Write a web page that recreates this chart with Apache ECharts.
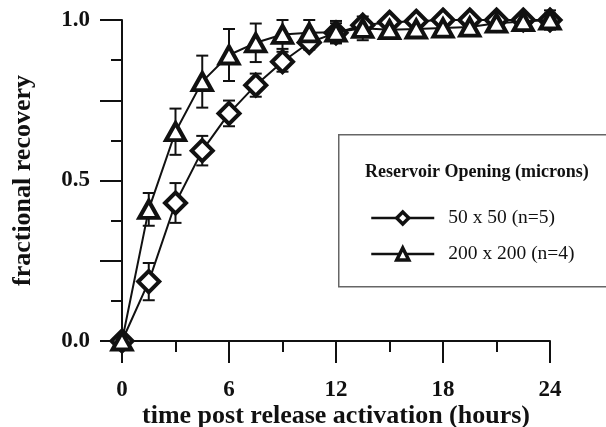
<!DOCTYPE html>
<html>
<head>
<meta charset="utf-8">
<script src="https://cdn.jsdelivr.net/npm/echarts@6/dist/echarts.min.js"></script>
<style>
  html, body { margin: 0; padding: 0; background: #fff; }
  #chart { width: 606px; height: 427px; }
</style>
</head>
<body>
<div id="chart"></div>
<script>
// time after release activation, hours
const hours = [0, 1.5, 3, 4.5, 6, 7.5, 9, 10.5, 12, 13.5, 15, 16.5, 18, 19.5, 21, 22.5, 24]

// 50 x 50 micron opening (n=5)
const small = [0, 0.185, 0.43, 0.593, 0.709, 0.797, 0.87, 0.93, 0.96, 0.984, 0.993, 0.996, 1.0, 1.0, 1.0, 1.0, 1.0]
const smallErr = [0, 0.058, 0.062, 0.046, 0.04, 0.036, 0.031, 0.022, 0.03, 0.015, 0.012, 0.01, 0.01, 0.01, 0.01, 0.01, 0.03]

// 200 x 200 micron opening (n=4)
const large = [0, 0.41, 0.652, 0.808, 0.891, 0.929, 0.955, 0.96, 0.962, 0.974, 0.97, 0.972, 0.975, 0.978, 0.99, 0.995, 1.0]
const largeErr = [0, 0.051, 0.072, 0.081, 0.081, 0.06, 0.045, 0.04, 0.035, 0.037, 0.02, 0.02, 0.015, 0.015, 0.01, 0.01, 0.02]

const smallName = '50 x 50 (n=5)'
const largeName = '200 x 200 (n=4)'

const serif = '"Liberation Serif", "Times New Roman", serif'

const toPairs = (ys) => hours.map((h, i) => [h, ys[i]])
const toErr = (ys, es) => hours.map((h, i) => [h, ys[i] - es[i], ys[i] + es[i]]).filter((d, i) => es[i] > 0)

function errorBar (params, api) {
  const lo = api.coord([api.value(0), api.value(1)])
  const hi = api.coord([api.value(0), api.value(2)])
  const cap = 6
  const style = { stroke: '#111', lineWidth: 2 }
  return {
    type: 'group',
    children: [
      { type: 'line', shape: { x1: lo[0], y1: lo[1], x2: hi[0], y2: hi[1] }, style },
      { type: 'line', shape: { x1: lo[0] - cap, y1: lo[1], x2: lo[0] + cap, y2: lo[1] }, style },
      { type: 'line', shape: { x1: hi[0] - cap, y1: hi[1], x2: hi[0] + cap, y2: hi[1] }, style }
    ]
  }
}

const chart = echarts.init(document.getElementById('chart'))

const axisLine = { show: true, lineStyle: { color: '#111', width: 2 } }

chart.setOption({
  animation: false,
  backgroundColor: '#fff',
  grid: { left: 122, top: 20, width: 428, height: 321, containLabel: false, outerBoundsMode: 'none' },
  xAxis: [
    {
      type: 'value', min: 0, max: 24, interval: 6, position: 'bottom',
      axisLine,
      axisTick: { show: true, length: 22, lineStyle: { color: '#111', width: 2 } },
      axisLabel: { margin: 38, color: '#111', fontFamily: serif, fontWeight: 'bold', fontSize: 23 },
      splitLine: { show: false },
      name: 'time post release activation (hours)',
      nameLocation: 'middle', nameGap: 62, nameMoveOverlap: false,
      nameTextStyle: { color: '#111', fontFamily: serif, fontWeight: 'bold', fontSize: 26 }
    },
    {
      type: 'value', min: 0, max: 24, interval: 3, position: 'bottom',
      axisLine: { show: false },
      axisTick: { show: true, length: 11, lineStyle: { color: '#111', width: 2 } },
      axisLabel: { show: false },
      splitLine: { show: false }
    }
  ],
  yAxis: [
    {
      type: 'value', min: 0, max: 1, interval: 0.25, position: 'left',
      axisLine,
      axisTick: { show: true, length: 22, lineStyle: { color: '#111', width: 2 } },
      axisLabel: {
        margin: 32, color: '#111', fontFamily: serif, fontWeight: 'bold', fontSize: 23,
        formatter: (v) => (v * 2 === Math.round(v * 2) ? v.toFixed(1) : '')
      },
      splitLine: { show: false },
      name: 'fractional recovery',
      nameLocation: 'middle', nameGap: 86, nameMoveOverlap: false,
      nameTextStyle: { color: '#111', fontFamily: serif, fontWeight: 'bold', fontSize: 26 }
    },
    {
      type: 'value', min: 0, max: 1, interval: 0.125, position: 'left',
      axisLine: { show: false },
      axisTick: { show: true, length: 11, lineStyle: { color: '#111', width: 2 } },
      axisLabel: { show: false },
      splitLine: { show: false }
    }
  ],
  legend: {
    orient: 'vertical',
    left: 365, top: 203,
    itemWidth: 63, itemHeight: 15, itemGap: 16,
    data: [smallName, largeName],
    itemStyle: { borderWidth: 3.5 },
    lineStyle: { width: 2.5 },
    textStyle: { color: '#111', fontFamily: serif, fontSize: 19.5, padding: [0, 0, 0, 9] }
  },
  graphic: [
    {
      type: 'rect', left: 338, top: 134, z: 0,
      shape: { width: 290, height: 152 },
      style: { fill: '#fff', stroke: '#666', lineWidth: 1.5 }
    },
    {
      type: 'text', left: 365, top: 163, z: 5,
      style: { text: 'Reservoir Opening (microns)', fill: '#111', font: 'bold 18px ' + serif }
    }
  ],
  series: [
    {
      type: 'custom', name: 'err-small', xAxisIndex: 0, yAxisIndex: 0, z: 1,
      renderItem: errorBar, data: toErr(small, smallErr), encode: { x: 0, y: [1, 2] }
    },
    {
      type: 'custom', name: 'err-large', xAxisIndex: 0, yAxisIndex: 0, z: 1,
      renderItem: errorBar, data: toErr(large, largeErr), encode: { x: 0, y: [1, 2] }
    },
    {
      type: 'line', name: smallName, data: toPairs(small), z: 3,
      symbol: 'diamond', symbolSize: [21, 21], showAllSymbol: true,
      lineStyle: { color: '#111', width: 2 },
      itemStyle: { color: '#fff', borderColor: '#111', borderWidth: 4 }
    },
    {
      type: 'line', name: largeName, data: toPairs(large), z: 4,
      symbol: 'triangle', symbolSize: [19, 17], showAllSymbol: true,
      lineStyle: { color: '#111', width: 2 },
      itemStyle: { color: '#fff', borderColor: '#111', borderWidth: 4 }
    }
  ]
})
</script>
</body>
</html>
